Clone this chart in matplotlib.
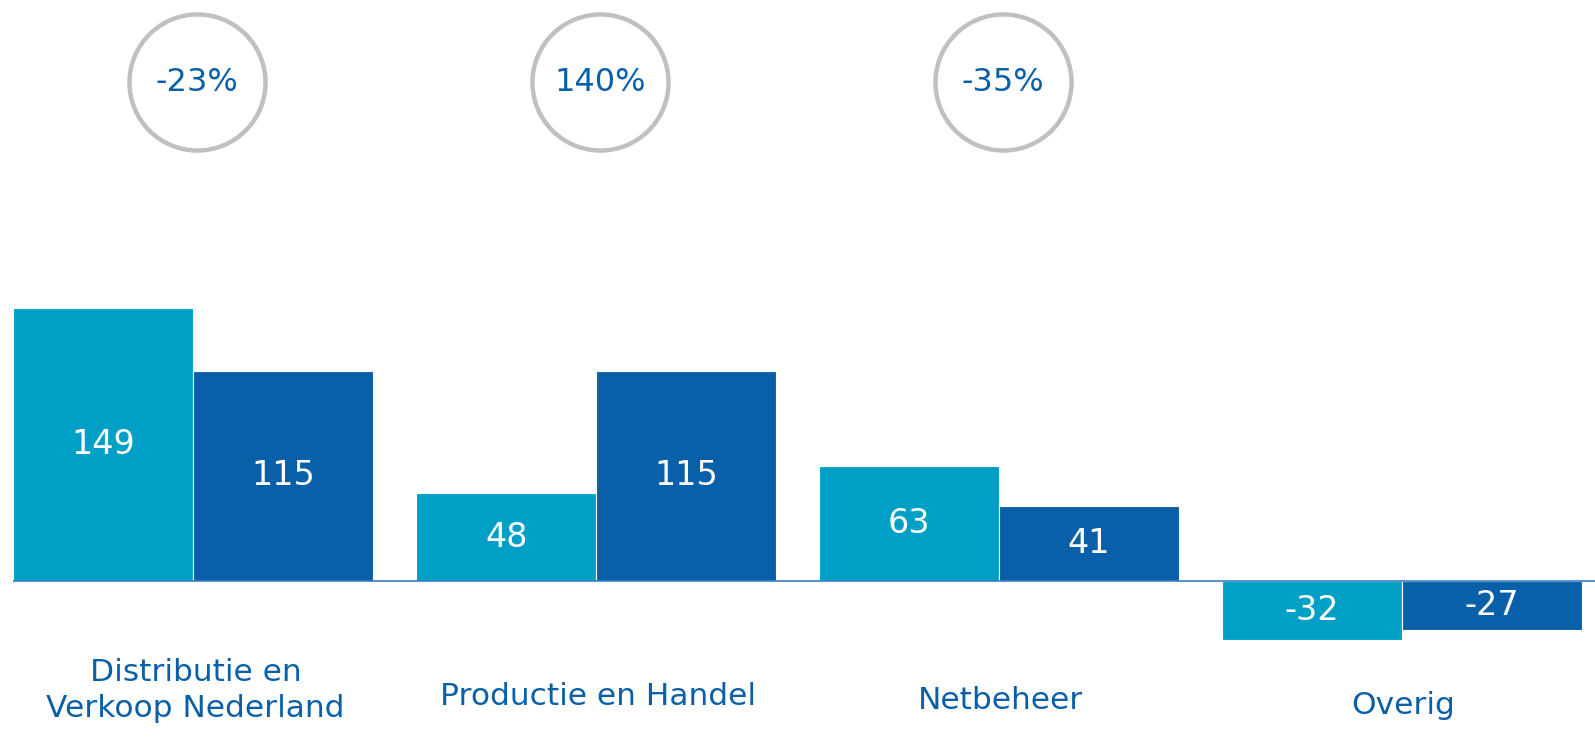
from matplotlib import pyplot as plt
import numpy as np

# Data
categories = ['Distributie en\nVerkoop Nederland', 'Productie en Handel', 'Netbeheer', 'Overig']
values_prev = [149, 48, 63, -32]
values_curr = [115, 115, 41, -27]
changes = ['-23%', '140%', '-35%']

# Colors
light = '#00a0c6'
dark = '#0a60a8'
text_blue = '#0a60a8'
ring = '#c0c0c0'

fig = plt.figure(figsize=(15.95, 7.39), dpi=100)
ax = fig.add_axes([0, 0, 1, 1])

x = np.arange(len(categories))
w = 0.447

ax.bar(x - w / 2, values_prev, w, color=light, edgecolor='white', linewidth=0.8, zorder=2)
ax.bar(x + w / 2, values_curr, w, color=dark, edgecolor='white', linewidth=0.8, zorder=2)

# baseline
ax.hlines(0, x[0] - w, 3.48, color='#3a7fc1', linewidth=1.2, zorder=3)

# values in the middle of the bars
for xi, v in zip(x, values_prev):
    ax.text(xi - w / 2, v / 2, str(v), ha='center', va='center', color='white', fontsize=24)
for xi, v in zip(x, values_curr):
    ax.text(xi + w / 2, v / 2, str(v), ha='center', va='center', color='white', fontsize=24)

# change circles
ax.scatter(x[:3] + 0.01, [272.5] * 3, s=9600, facecolor='white', edgecolor=ring, linewidth=3.2, zorder=4)
for xi, c in zip(x[:3], changes):
    ax.text(xi + 0.01, 272.5, c, ha='center', va='center', color=text_blue, fontsize=23, zorder=5)

# category labels
label_y = [-60, -63, -65, -68]
for xi, lab, ly in zip(x, categories, label_y):
    ax.text(xi + 0.005, ly, lab, ha='center', va='center', color=text_blue, fontsize=22.5,
            linespacing=1.3)

ax.set_xlim(-0.48, 3.48)
ax.set_ylim(-86.3, 317.5)
ax.axis('off')

plt.savefig('out.png', dpi=100)
